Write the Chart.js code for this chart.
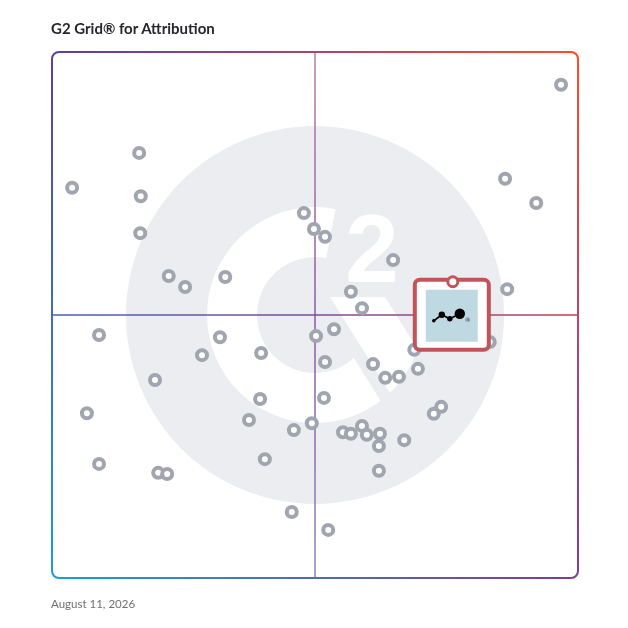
<!DOCTYPE html>
<html>
<head>
<meta charset="utf-8">
<script src="https://cdn.jsdelivr.net/npm/chart.js@4.4.1/dist/chart.umd.min.js"></script>
<style>
  html, body { margin: 0; padding: 0; background: #ffffff; }
  #wrap { position: relative; width: 628px; height: 628px; }
  #chart { position: absolute; left: 0; top: 0; }
  #title { position: absolute; left: 51px; top: 21px; font: bold 15px Lato, "Noto Sans", sans-serif; line-height: 15px; color: #26262f; white-space: nowrap; }
  #date { position: absolute; left: 51px; top: 598px; font: 11.5px Lato, "Noto Sans", sans-serif; line-height: 12px; color: #707070; white-space: nowrap; }
</style>
</head>
<body>
<div id="wrap">
  <canvas id="chart" width="628" height="628"></canvas>
  <div id="title">G2 Grid® for Attribution</div>
  <div id="date">August 11, 2026</div>
</div>
<script>
// ---- data (satisfaction on x, market presence on y; 0–100) ----
const axisMin = 0;
const axisMax = 100;
const quadrantSplit = 50;

const productX = [16.7, 4.0, 17.0, 16.9, 22.3, 25.4, 33.0, 47.9, 49.8,
  96.6, 86.0, 91.9, 51.9, 64.8, 56.8, 58.9, 86.4,
  9.1, 32.0, 28.6, 39.8, 50.2, 19.7, 6.8, 39.6, 37.5, 46.0, 49.4, 9.1, 20.3, 22.0, 40.5, 45.6,
  53.6, 51.9, 51.7, 61.0, 63.3, 65.9, 69.5, 68.8, 83.1, 73.9, 72.5, 55.3, 56.8, 58.9, 59.8, 62.3, 62.1, 66.9, 62.1, 52.5];
const productY = [80.7, 74.1, 72.5, 65.5, 57.4, 55.3, 57.2, 69.3, 66.3,
  93.6, 75.8, 71.2, 64.8, 60.4, 54.4, 51.3, 54.9,
  46.2, 45.8, 42.4, 42.8, 46.0, 37.7, 31.4, 34.1, 30.1, 28.2, 29.5, 21.8, 20.1, 19.9, 22.7, 12.7,
  47.3, 41.1, 34.3, 40.7, 38.1, 38.3, 39.8, 43.4, 44.9, 32.6, 31.3, 27.8, 27.5, 29.0, 27.3, 27.5, 25.2, 26.3, 20.5, 9.3];
const highlightX = [76.1];
const highlightY = [56.3];

const productPoints = productX.map((x, i) => ({ x: x, y: productY[i] }));
const highlightPoints = highlightX.map((x, i) => ({ x: x, y: highlightY[i] }));

// ---- decorative drawing helpers ----
function drawWatermark(ctx, cx, cy) {
  const deg = Math.PI / 180;
  ctx.save();
  ctx.fillStyle = '#ebedf0';
  ctx.beginPath();
  ctx.arc(cx, cy, 189, 0, 2 * Math.PI);
  ctx.fill();
  // G ring
  ctx.fillStyle = '#ffffff';
  ctx.beginPath();
  ctx.arc(cx, cy, 108, -79 * deg, 30 * deg, true);
  ctx.arc(cx, cy, 58, 30 * deg, -79 * deg, false);
  ctx.closePath();
  ctx.fill();
  // gap cut
  ctx.save();
  ctx.beginPath();
  ctx.arc(cx, cy, 112, 0, 2 * Math.PI);
  ctx.clip();
  ctx.fillStyle = '#ebedf0';
  ctx.beginPath();
  ctx.moveTo(cx + 0.9, cy - 18);
  ctx.lineTo(cx + 86.9, cy + 120);
  ctx.lineTo(cx + 200, cy + 120);
  ctx.lineTo(cx + 200, cy - 18);
  ctx.closePath();
  ctx.fill();
  ctx.restore();
  // chevron
  ctx.save();
  ctx.beginPath();
  ctx.arc(cx, cy, 108, 0, 2 * Math.PI);
  ctx.clip();
  ctx.fillStyle = '#ffffff';
  ctx.beginPath();
  ctx.moveTo(cx + 15, cy - 18);
  ctx.lineTo(cx + 70, cy - 18);
  ctx.lineTo(cx + 157, cy + 121.5);
  ctx.lineTo(cx + 102, cy + 121.5);
  ctx.closePath();
  ctx.fill();
  ctx.restore();
  // superscript 2
  ctx.fillStyle = '#ffffff';
  ctx.font = 'bold 96px "Liberation Sans", Arial, sans-serif';
  ctx.textAlign = 'center';
  ctx.textBaseline = 'alphabetic';
  ctx.fillText('2', cx + 57, cy - 33);
  ctx.restore();
}

function drawBorder(ctx, a) {
  const L = a.left + 1, T = a.top + 1, R = a.right - 1, B = a.bottom - 1, r = 7;
  const cTL = '#5b3fa9', cTR = '#ff4b2b', cBL = '#1e9bd7', cBR = '#7d3c9c';
  ctx.save();
  ctx.lineWidth = 2;
  ctx.lineCap = 'butt';
  function side(x1, y1, x2, y2, c1, c2) {
    const g = ctx.createLinearGradient(x1, y1, x2, y2);
    g.addColorStop(0, c1); g.addColorStop(1, c2);
    ctx.strokeStyle = g;
    ctx.beginPath(); ctx.moveTo(x1, y1); ctx.lineTo(x2, y2); ctx.stroke();
  }
  side(L + r, T, R - r, T, cTL, cTR);
  side(L + r, B, R - r, B, cBL, cBR);
  side(L, T + r, L, B - r, cTL, cBL);
  side(R, T + r, R, B - r, cTR, cBR);
  function corner(x, y, a0, a1, c) {
    ctx.strokeStyle = c;
    ctx.beginPath(); ctx.arc(x, y, r, a0, a1); ctx.stroke();
  }
  corner(L + r, T + r, Math.PI, 1.5 * Math.PI, cTL);
  corner(R - r, T + r, 1.5 * Math.PI, 2 * Math.PI, cTR);
  corner(R - r, B - r, 0, 0.5 * Math.PI, cBR);
  corner(L + r, B - r, 0.5 * Math.PI, Math.PI, cBL);
  ctx.restore();
}

function drawQuadrants(ctx, a, mx, my) {
  ctx.save();
  ctx.lineWidth = 1.5;
  const gv = ctx.createLinearGradient(0, a.top, 0, a.bottom);
  gv.addColorStop(0, '#b97ca6'); gv.addColorStop(0.5, '#8b5b9f'); gv.addColorStop(1, '#8f80c2');
  ctx.strokeStyle = gv;
  ctx.beginPath(); ctx.moveTo(mx, a.top); ctx.lineTo(mx, a.bottom); ctx.stroke();
  const gh = ctx.createLinearGradient(a.left, 0, a.right, 0);
  gh.addColorStop(0, '#4462b0'); gh.addColorStop(0.5, '#7a4c98'); gh.addColorStop(1, '#c23f55');
  ctx.strokeStyle = gh;
  ctx.beginPath(); ctx.moveTo(a.left, my); ctx.lineTo(a.right, my); ctx.stroke();
  ctx.restore();
}

function roundRect(ctx, x, y, w, h, r) {
  ctx.beginPath();
  ctx.moveTo(x + r, y);
  ctx.lineTo(x + w - r, y); ctx.arcTo(x + w, y, x + w, y + r, r);
  ctx.lineTo(x + w, y + h - r); ctx.arcTo(x + w, y + h, x + w - r, y + h, r);
  ctx.lineTo(x + r, y + h); ctx.arcTo(x, y + h, x, y + h - r, r);
  ctx.lineTo(x, y + r); ctx.arcTo(x, y, x + r, y, r);
  ctx.closePath();
}

function drawHighlightBox(ctx, px, py) {
  ctx.save();
  roundRect(ctx, px - 38, py - 2, 74, 70, 5);
  ctx.fillStyle = '#ffffff';
  ctx.fill();
  ctx.lineWidth = 4;
  ctx.strokeStyle = '#c2535a';
  ctx.stroke();
  ctx.fillStyle = '#bfd9e3';
  ctx.fillRect(px - 27, py + 8, 52, 52);
  // vendor logo mark
  ctx.strokeStyle = '#000000';
  ctx.fillStyle = '#000000';
  ctx.lineWidth = 1.6;
  const dots = [[-19, 39, 1.8], [-11, 33, 3.2], [-3, 37, 2.7], [7, 32, 5.2]];
  ctx.beginPath();
  dots.forEach((d, i) => { if (i === 0) ctx.moveTo(px + d[0], py + d[1]); else ctx.lineTo(px + d[0], py + d[1]); });
  ctx.stroke();
  dots.forEach(d => { ctx.beginPath(); ctx.arc(px + d[0], py + d[1], d[2], 0, 2 * Math.PI); ctx.fill(); });
  ctx.font = '6px "DejaVu Sans", sans-serif';
  ctx.textAlign = 'center';
  ctx.textBaseline = 'middle';
  ctx.fillStyle = '#333333';
  ctx.fillText('®', px + 15, py + 39);
  ctx.restore();
}

const gridPlugin = {
  id: 'g2grid',
  beforeDatasetsDraw(chart) {
    const ctx = chart.ctx, a = chart.chartArea;
    const mx = chart.scales.x.getPixelForValue(quadrantSplit);
    const my = chart.scales.y.getPixelForValue(quadrantSplit);
    drawWatermark(ctx, mx, my);
    drawQuadrants(ctx, a, mx, my);
    drawBorder(ctx, a);
  },
  beforeDatasetDraw(chart, args) {
    if (args.index !== 0) return;
    const meta = chart.getDatasetMeta(0);
    meta.data.forEach(el => drawHighlightBox(chart.ctx, el.x, el.y));
  }
};

new Chart(document.getElementById('chart'), {
  type: 'scatter',
  data: {
    datasets: [
      {
        label: 'Highlighted product',
        data: highlightPoints,
        pointRadius: 5,
        pointHoverRadius: 5,
        borderWidth: 3,
        borderColor: '#c2535a',
        backgroundColor: '#ffffff'
      },
      {
        label: 'Products',
        data: productPoints,
        pointRadius: 5,
        pointHoverRadius: 5,
        borderWidth: 4,
        borderColor: '#a0a5b0',
        backgroundColor: '#ffffff'
      }
    ]
  },
  options: {
    responsive: false,
    animation: false,
    devicePixelRatio: 1,
    layout: { padding: { left: 51, top: 51, right: 49, bottom: 49 } },
    plugins: { legend: { display: false }, tooltip: { enabled: false }, title: { display: false } },
    events: [],
    scales: {
      x: { type: 'linear', min: axisMin, max: axisMax, display: false },
      y: { type: 'linear', min: axisMin, max: axisMax, display: false }
    }
  },
  plugins: [gridPlugin]
});
</script>
</body>
</html>
